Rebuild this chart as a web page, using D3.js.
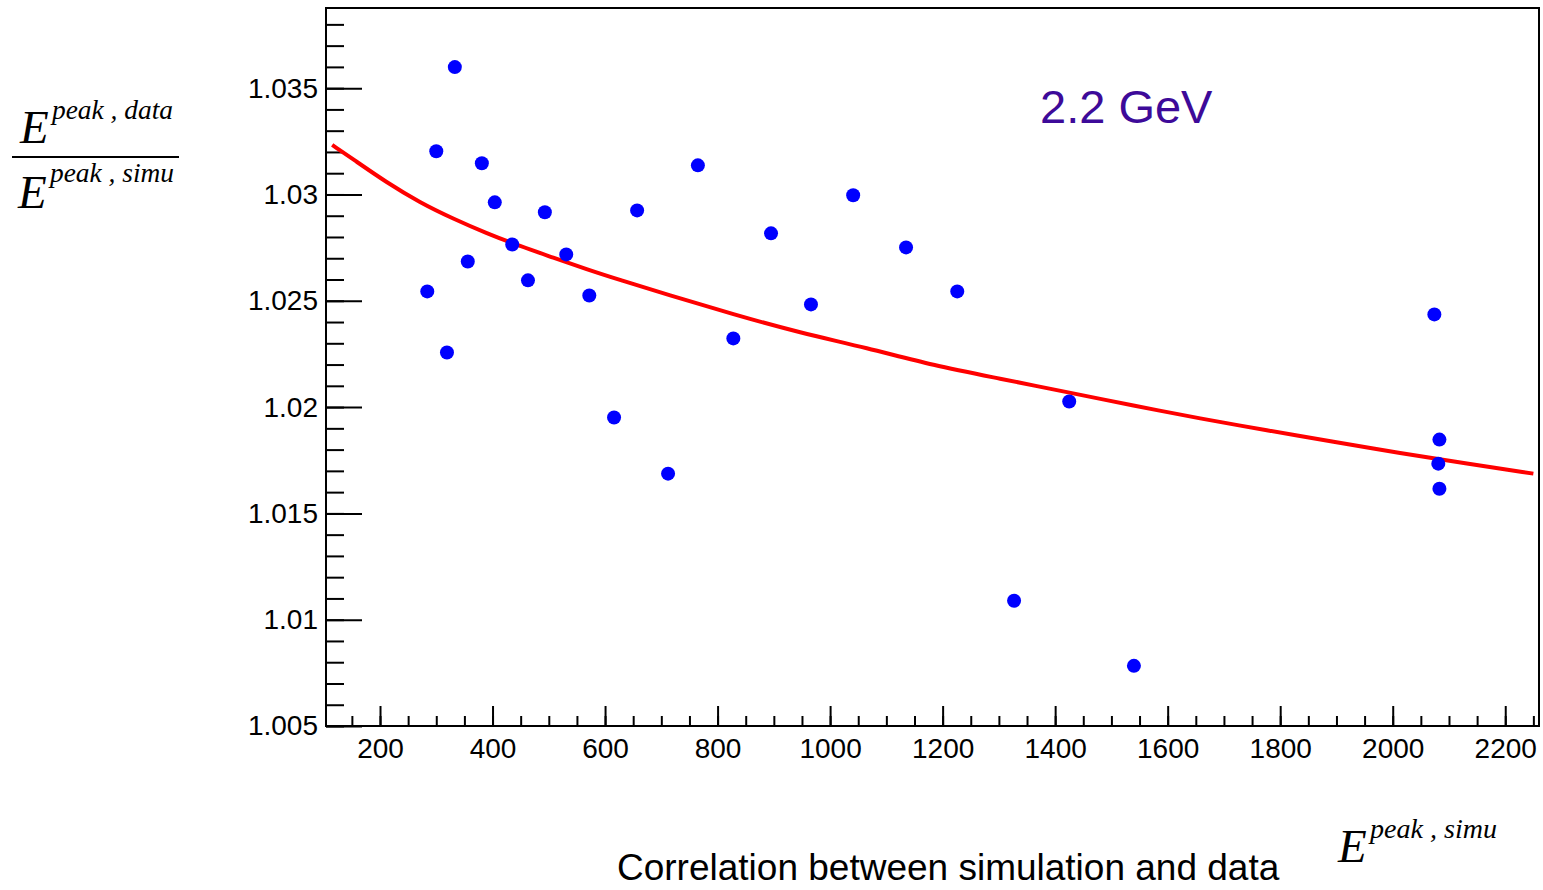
<!DOCTYPE html>
<html>
<head>
<meta charset="utf-8">
<script src="https://cdn.jsdelivr.net/npm/d3@7/dist/d3.min.js"></script>
<style>
  body { margin: 0; background: #fff; }
  text { font-family: "Liberation Sans", Arial, sans-serif; }
  .math { font-family: "Liberation Serif", "Times New Roman", serif; font-style: italic; }
</style>
</head>
<body>
<div id="chart"></div>
<script>
// measured points (E peak simu, ratio data/simu)
var pointX = [284, 300, 319, 333, 356, 381, 404, 435, 463, 493, 531, 572, 616, 657,
              712, 765, 828, 895, 966, 1041, 1135, 1226, 1327, 1425, 1540,
              2074, 2083, 2081, 2083];
var pointY = [1.02544, 1.03203, 1.02257, 1.03599, 1.02685, 1.03147, 1.02963, 1.02765,
              1.02596, 1.02916, 1.02718, 1.02525, 1.01951, 1.02925, 1.01687, 1.03137,
              1.02323, 1.02817, 1.02483, 1.02996, 1.02751, 1.02544, 1.01089, 1.02026,
              1.00783, 1.02436, 1.01847, 1.01734, 1.01616];

// fit curve
var fitX = [115, 152, 212, 271, 330, 390, 449, 508, 567, 627, 710, 828, 947,
            1065, 1184, 1302, 1421, 1539, 1658, 1776, 1895, 2013, 2132, 2250];
var fitY = [1.03233, 1.03166, 1.03056, 1.02962, 1.02886, 1.02817, 1.02757, 1.02703,
            1.02648, 1.02597, 1.02530, 1.02436, 1.02349, 1.02279, 1.02195, 1.02134,
            1.02070, 1.02007, 1.01946, 1.01891, 1.01836, 1.01784, 1.01734, 1.01687];

var xTicks = [200, 400, 600, 800, 1000, 1200, 1400, 1600, 1800, 2000, 2200];
var xMinorTicks = d3.range(150, 2251, 50);
var yTicks = [1.005, 1.01, 1.015, 1.02, 1.025, 1.03, 1.035];
var yTickLabels = ["1.005", "1.01", "1.015", "1.02", "1.025", "1.03", "1.035"];
var yMinorTicks = d3.range(1005, 1039).map(d => d / 1000);

var width = 1543, height = 890;
var plotLeft = 326, plotRight = 1539, plotTop = 8, plotBottom = 726;

var svg = d3.select("#chart").append("svg")
    .attr("width", width)
    .attr("height", height);

var x = d3.scaleLinear().domain([104, 2260]).range([plotLeft, plotRight]);
var y = d3.scaleLinear().domain([1.005, 1.03877]).range([plotBottom, plotTop]);

// minor ticks
svg.append("g")
    .attr("transform", `translate(${plotLeft},0)`)
    .call(d3.axisLeft(y).tickValues(yMinorTicks).tickSizeInner(-18).tickSizeOuter(0).tickFormat(""))
    .call(g => g.select(".domain").remove());
svg.append("g")
    .attr("transform", `translate(0,${plotBottom})`)
    .call(d3.axisBottom(x).tickValues(xMinorTicks).tickSizeInner(-10).tickSizeOuter(0).tickFormat(""))
    .call(g => g.select(".domain").remove());

// major ticks + labels
svg.append("g")
    .attr("transform", `translate(${plotLeft},0)`)
    .call(d3.axisLeft(y).tickValues(yTicks).tickSizeInner(-36).tickSizeOuter(0).tickPadding(8)
      .tickFormat((d, i) => yTickLabels[i]))
    .call(g => g.select(".domain").remove());
svg.append("g")
    .attr("transform", `translate(0,${plotBottom})`)
    .call(d3.axisBottom(x).tickValues(xTicks).tickSizeInner(-20).tickSizeOuter(0).tickPadding(12)
      .tickFormat(d3.format("d")))
    .call(g => g.select(".domain").remove());

svg.selectAll(".tick line").attr("stroke", "#000").attr("stroke-width", 2);
svg.selectAll(".tick text")
    .attr("font-family", "Liberation Sans, Arial, sans-serif")
    .attr("font-size", 28)
    .attr("fill", "#000");

// frame
svg.append("rect")
    .attr("x", plotLeft).attr("y", plotTop)
    .attr("width", plotRight - plotLeft).attr("height", plotBottom - plotTop)
    .attr("fill", "none")
    .attr("stroke", "#000")
    .attr("stroke-width", 2);

// fit line
var line = d3.line().x((d, i) => x(fitX[i])).y((d, i) => y(fitY[i])).curve(d3.curveBasis);
svg.append("path")
    .datum(fitX)
    .attr("d", line)
    .attr("fill", "none")
    .attr("stroke", "#ff0000")
    .attr("stroke-width", 4);

// points
svg.selectAll("circle")
    .data(pointX)
    .join("circle")
      .attr("cx", d => x(d))
      .attr("cy", (d, i) => y(pointY[i]))
      .attr("r", 7)
      .attr("fill", "#0000ff");

// energy label
svg.append("text")
    .attr("x", 1040).attr("y", 123)
    .attr("font-size", 47)
    .attr("fill", "#3d0a99")
    .text("2.2 GeV");

// title
svg.append("text")
    .attr("x", 617).attr("y", 880)
    .attr("font-size", 37)
    .attr("fill", "#000")
    .text("Correlation between simulation and data");

// math labels
function powerLabel(x0, yBase, ySup, sup, supLen) {
  svg.append("text").attr("class", "math")
      .attr("x", x0).attr("y", yBase)
      .attr("font-size", 47)
      .text("E");
  svg.append("text").attr("class", "math")
      .attr("x", x0 + 32).attr("y", ySup)
      .attr("font-size", 27)
      .attr("textLength", supLen)
      .attr("lengthAdjust", "spacingAndGlyphs")
      .text(sup);
}
powerLabel(20, 143, 119, "peak , data", 121);
svg.append("line")
    .attr("x1", 12).attr("x2", 179)
    .attr("y1", 157).attr("y2", 157)
    .attr("stroke", "#000").attr("stroke-width", 2);
powerLabel(18, 208, 182, "peak , simu", 124);
powerLabel(1338, 862, 838, "peak , simu", 127);
</script>
</body>
</html>
